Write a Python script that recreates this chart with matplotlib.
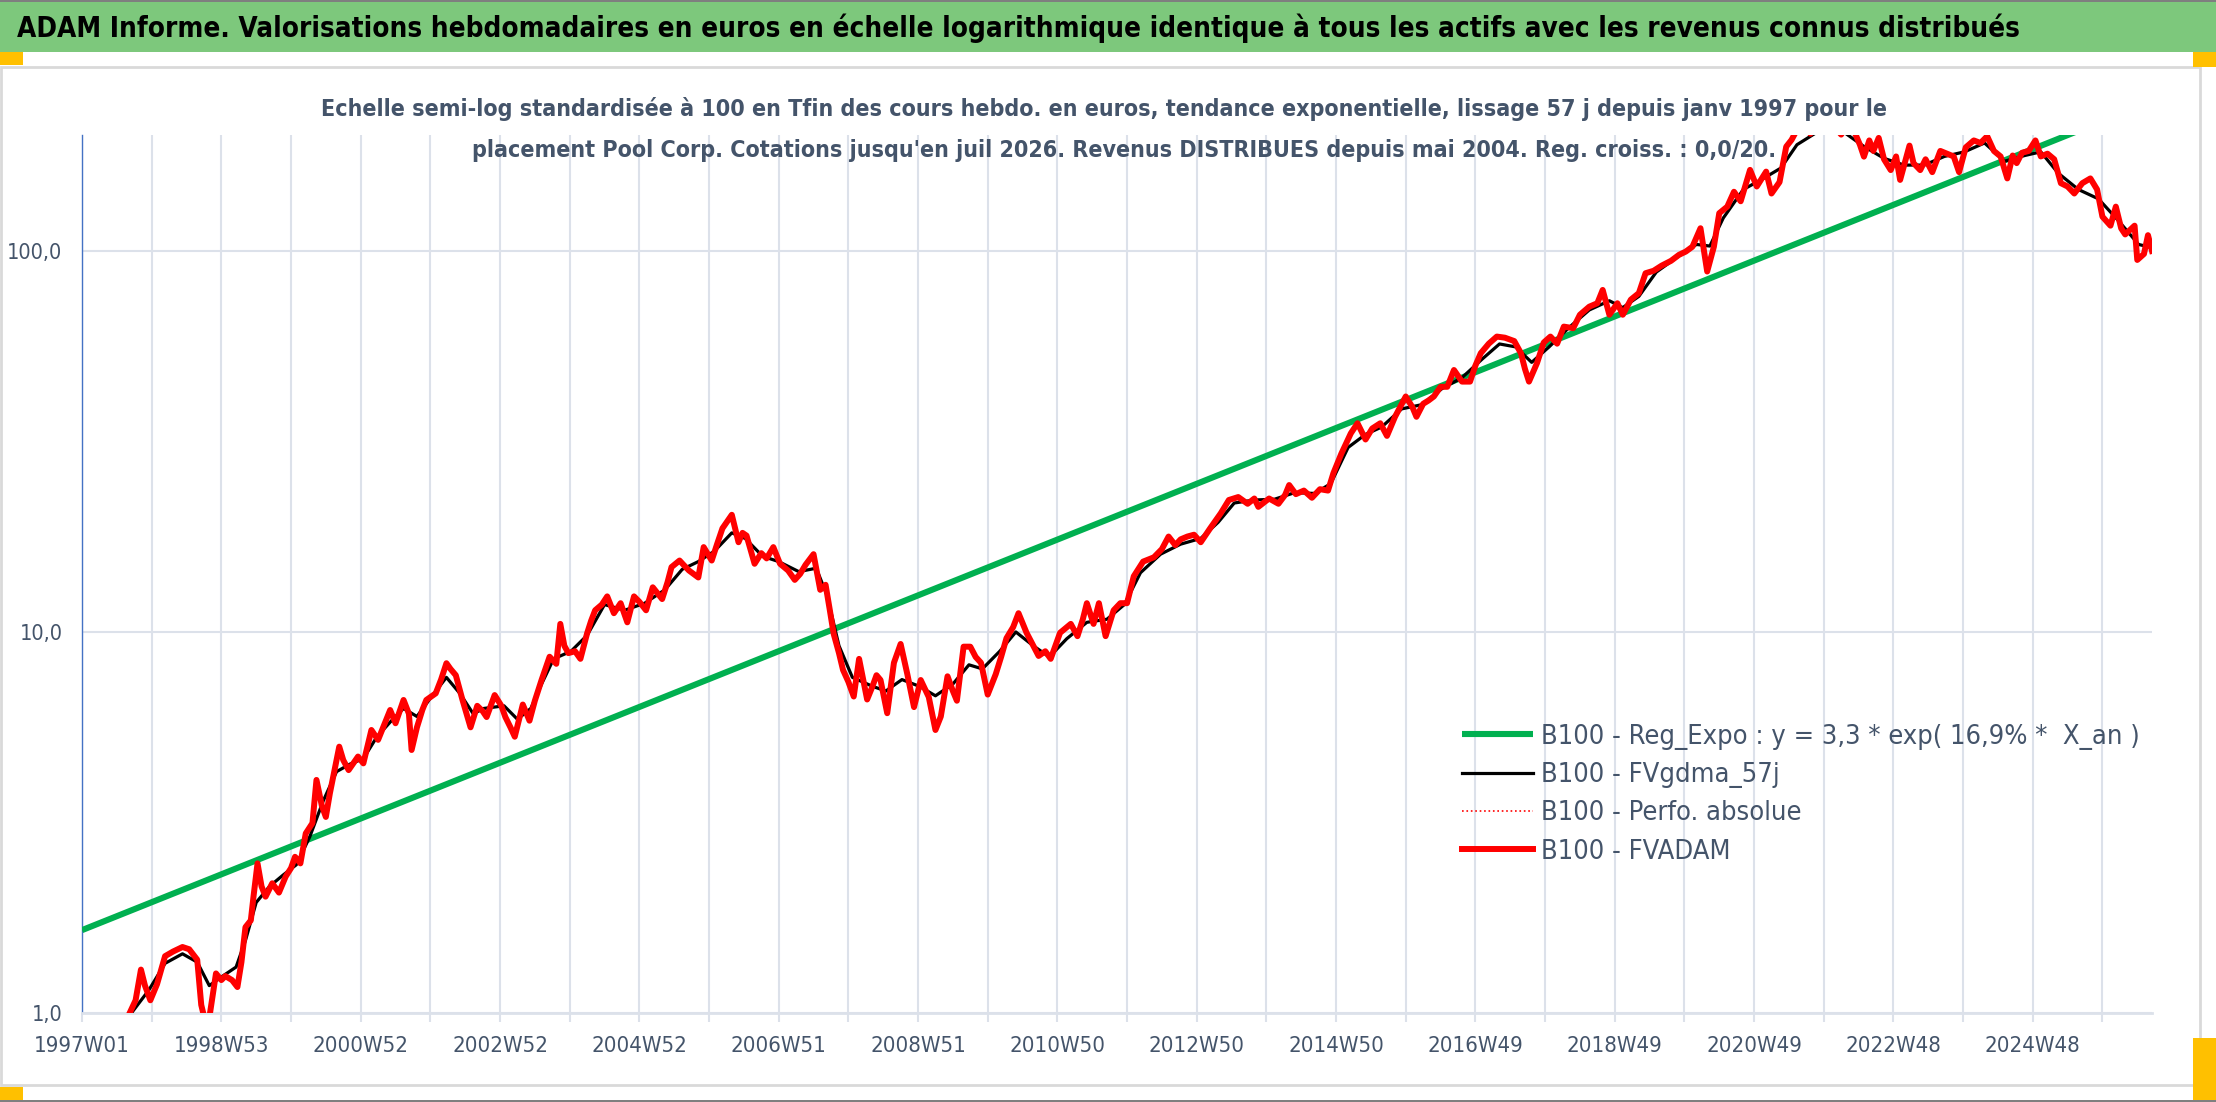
import matplotlib
matplotlib.use('Agg')
import matplotlib.pyplot as plt
from matplotlib import font_manager
from matplotlib.patches import Rectangle
from matplotlib.ticker import FixedLocator, NullLocator

# --- data (weekly index, 0 = 1997W01) ---
tick_labels = ["1997W01", "1998W53", "2000W52", "2002W52", "2004W52", "2006W51",
               "2008W51", "2010W50", "2012W50", "2014W50", "2016W49", "2018W49",
               "2020W49", "2022W48", "2024W48"]
n_weeks = 1545

fvadam_weeks = [0, 12, 24, 32, 35, 40, 44, 47, 51, 56, 62, 68, 75, 80, 86, 89, 92, 95,
                100, 104, 107, 112, 116, 119, 122, 126, 128, 131, 134, 137, 142, 147,
                152, 156, 159, 163, 167, 172, 175, 179, 182, 185, 192, 195, 199, 203,
                206, 210, 216, 221, 226, 230, 234, 240, 244, 246, 250, 254, 257, 264,
                268, 272, 275, 279, 284, 290, 295, 299, 302, 308, 313, 316, 320, 323,
                329, 334, 338, 343, 349, 354, 357, 360, 363, 368, 372, 377, 380, 383,
                388, 392, 397, 402, 407, 412, 416, 421, 426, 433, 437, 440, 446, 449,
                453, 460, 464, 470, 474, 478, 485, 490, 493, 496, 502, 507, 511, 516,
                521, 527, 532, 536, 540, 546, 551, 555, 558, 561, 565, 568, 572, 576,
                580, 586, 590, 593, 596, 601, 606, 611, 616, 621, 626, 632, 637, 641,
                646, 650, 653, 658, 663, 667, 671, 676, 682, 686, 690, 695, 699, 705,
                710, 714, 719, 723, 730, 738, 743, 747, 750, 755, 759, 764, 770, 775,
                780, 785, 792, 800, 806, 811, 816, 820, 825, 830, 835, 842, 850, 856,
                863, 870, 875, 878, 886, 893, 898, 901, 906, 912, 918, 924, 930, 934,
                940, 947, 952, 958, 963, 969, 974, 980, 984, 988, 993, 996, 1001, 1005,
                1009, 1014, 1019, 1024, 1030, 1036, 1040, 1044, 1050, 1056, 1062, 1069,
                1074, 1077, 1080, 1086, 1091, 1096, 1101, 1106, 1113, 1118, 1125, 1131,
                1135, 1140, 1146, 1150, 1156, 1162, 1167, 1173, 1179, 1186, 1192, 1197,
                1202, 1208, 1213, 1218, 1222, 1228, 1233, 1238, 1245, 1250, 1257, 1261,
                1267, 1272, 1276, 1280, 1285, 1290, 1295, 1302, 1308, 1313, 1318, 1323,
                1327, 1330, 1334, 1337, 1341, 1345, 1350, 1354, 1357, 1364, 1367, 1372,
                1376, 1381, 1387, 1392, 1397, 1401, 1406, 1412, 1417, 1422, 1427, 1432,
                1437, 1441, 1444, 1448, 1453, 1458, 1462, 1467, 1472, 1477, 1482, 1487,
                1493, 1499, 1504, 1508, 1514, 1518, 1522, 1525, 1532, 1534, 1539, 1542,
                1545]
fvadam_vals = [0.72, 0.78, 0.85, 0.93, 0.99, 1.08, 1.30, 1.18, 1.08, 1.19, 1.41, 1.45,
               1.49, 1.47, 1.38, 1.05, 0.95, 0.97, 1.27, 1.22, 1.25, 1.22, 1.17, 1.36,
               1.68, 1.75, 2.02, 2.47, 2.15, 2.02, 2.19, 2.07, 2.28, 2.40, 2.57, 2.47,
               2.96, 3.15, 4.09, 3.5, 3.27, 3.77, 5.0, 4.61, 4.34, 4.55, 4.71, 4.52,
               5.53, 5.21, 5.76, 6.24, 5.76, 6.63, 6.1, 4.90, 5.62, 6.24, 6.63, 6.9,
               7.5, 8.28, 8.0, 7.7, 6.63, 5.62, 6.4, 6.2, 5.98, 6.83, 6.4, 5.98, 5.6,
               5.31, 6.45, 5.85, 6.6, 7.48, 8.61, 8.25, 10.5, 9.2, 8.8, 8.9, 8.5, 9.92,
               10.7, 11.4, 11.8, 12.4, 11.2, 11.9, 10.6, 12.4, 12.0, 11.4, 13.1, 12.2,
               13.5, 14.8, 15.4, 15.0, 14.5, 13.9, 16.7, 15.4, 17.0, 18.7, 20.3, 17.2,
               18.2, 17.9, 15.1, 16.1, 15.6, 16.7, 15.1, 14.5, 13.7, 14.2, 15.0, 16.0,
               12.9, 13.3, 11.5, 9.9, 8.8, 7.95, 7.4, 6.77, 8.5, 6.65, 7.2, 7.7, 7.48,
               6.12, 8.3, 9.3, 7.75, 6.35, 7.48, 6.75, 5.53, 6.0, 7.65, 7.0, 6.6, 9.15,
               9.15, 8.6, 8.3, 6.85, 7.75, 8.6, 9.63, 10.3, 11.2, 9.95, 9.2, 8.65, 8.9,
               8.5, 9.95, 10.5, 9.75, 10.8, 11.9, 10.5, 11.9, 9.75, 11.4, 11.9, 11.9,
               14.0, 15.3, 15.7, 16.5, 17.8, 16.9, 17.5, 17.8, 18.0, 17.2, 18.7, 20.5,
               22.2, 22.6, 21.7, 22.4, 21.3, 22.4, 21.7, 22.9, 24.3, 23.0, 23.5, 22.5,
               23.7, 23.5, 26.1, 29.4, 33.2, 35.3, 32.0, 34.2, 35.3, 32.7, 36.7, 39.0,
               41.5, 38.9, 36.7, 39.7, 40.5, 41.5, 44.0, 44.0, 48.7, 45.4, 45.4, 50.0,
               53.9, 57.1, 59.6, 59.2, 58.0, 53.9, 49.0, 45.4, 50.8, 57.5, 59.6, 57.1,
               63.3, 62.7, 68.0, 71.4, 72.9, 79.0, 68.0, 72.9, 68.0, 74.5, 77.5, 87.4,
               88.7, 91.5, 94.2, 97.7, 99.6, 102.6, 114.7, 88.3, 102.6, 125.6, 130.7,
               143, 135, 163.2, 147.6, 161.5, 141.5, 151.6, 187.8, 195.7, 208, 215, 203,
               218, 225, 212, 202, 215, 205, 190, 176.8, 195, 183, 198, 174, 163, 177,
               153.6, 189, 170, 163, 174, 161, 183, 180, 177, 161, 187, 195, 192, 200,
               183, 177, 155, 178, 170, 181, 183, 195, 177, 180, 174, 150.6, 147.6,
               141.5, 150.6, 155, 145, 123, 116.5, 130.7, 114.6, 110.5, 116.5, 94.7,
               98.2, 110, 100]

gdma_weeks = [0, 20, 35, 50, 62, 75, 86, 95, 105, 115, 122, 130, 140, 150, 160, 170,
              180, 190, 200, 210, 220, 230, 240, 250, 260, 272, 282, 292, 300, 315,
              325, 335, 343, 352, 365, 377, 390, 405, 420, 435, 448, 460, 472, 485,
              495, 508, 520, 535, 548, 556, 565, 575, 590, 600, 612, 625, 637, 650,
              662, 672, 685, 697, 710, 722, 735, 750, 765, 778, 790, 805, 820, 835,
              848, 860, 875, 890, 905, 920, 932, 945, 958, 970, 985, 1000, 1015, 1030,
              1045, 1058, 1070, 1082, 1095, 1110, 1125, 1140, 1150, 1162, 1175, 1190,
              1205, 1215, 1225, 1240, 1255, 1268, 1280, 1295, 1315, 1330, 1345, 1360,
              1375, 1390, 1405, 1420, 1435, 1450, 1462, 1475, 1490, 1505, 1520, 1535,
              1545]
gdma_vals = [0.74, 0.82, 0.98, 1.15, 1.35, 1.43, 1.36, 1.18, 1.25, 1.32, 1.55, 1.95,
             2.15, 2.3, 2.45, 2.9, 3.6, 4.3, 4.5, 4.65, 5.3, 5.8, 6.3, 6.0, 6.7, 7.6,
             6.9, 6.1, 6.3, 6.4, 5.9, 6.3, 7.3, 8.5, 8.9, 9.8, 11.8, 11.4, 11.9, 12.9,
             14.6, 15.3, 16.3, 18.2, 17.6, 15.8, 15.3, 14.4, 14.7, 12.5, 9.2, 7.6, 7.2,
             7.0, 7.5, 7.2, 6.8, 7.3, 8.2, 8.0, 8.9, 10.0, 9.2, 8.6, 9.6, 10.6, 10.8,
             11.8, 14.3, 16.0, 17.0, 17.6, 19.4, 21.8, 22.2, 22.3, 23.2, 23.1, 24.5,
             30.5, 33.0, 34.5, 38.5, 39.5, 43.5, 46.5, 52, 57, 56, 51, 56, 63, 70, 74,
             71, 76, 88, 96, 104, 103, 122, 145, 155, 165, 190, 205, 205, 188, 175,
             168, 168, 177, 182, 192, 172, 178, 182, 160, 145, 137, 120, 104, 102]

# exponential regression, straight on the log scale: start and end values
reg_weeks = [0, 1545]
reg_vals = [1.65, 247]

# --- fonts: a narrow face if one is installed ---
ttf = font_manager.fontManager.ttflist
narrow = [f for f in ttf if 'narrow' in f.fname.lower() or 'condensed' in f.fname.lower()]
if narrow:
    FONT, STRETCH = narrow[0].name, 'condensed'
else:
    FONT, STRETCH = 'Liberation Sans', 'normal'
plt.rcParams['font.family'] = [FONT, 'DejaVu Sans']
plt.rcParams['font.stretch'] = STRETCH

TXT = '#44546A'
W, H = 2216, 1102
fig = plt.figure(figsize=(W / 100, H / 100), dpi=100)
fig.patch.set_facecolor('white')
renderer = fig.canvas.get_renderer()


def fit(t, target):
    w = t.get_window_extent(renderer).width
    t.set_fontsize(t.get_fontsize() * target / w)
    return t.get_fontsize()


# frame decorations (green banner, chart border, selection handles)
fig.add_artist(Rectangle((0, 1 - 52 / H), 1, 50 / H, transform=fig.transFigure,
                         facecolor='#7DC87C', edgecolor='none'))
fig.add_artist(Rectangle((0, 1 - 2 / H), 1, 2 / H, transform=fig.transFigure,
                         facecolor='#7F7F7F', edgecolor='none'))
fig.add_artist(Rectangle((0, 0), 1, 2 / H, transform=fig.transFigure,
                         facecolor='#7F7F7F', edgecolor='none'))
fig.add_artist(Rectangle((1 / W, 1 - 1085 / H), 2199 / W, 1018 / H, transform=fig.transFigure,
                         facecolor='none', edgecolor='#D9D9D9', linewidth=2))
for x0, y0, w, h in [(0, 52, 23, 13), (0, 1087, 23, 13), (2193, 52, 23, 15), (2193, 1038, 23, 62)]:
    fig.add_artist(Rectangle((x0 / W, 1 - (y0 + h) / H), w / W, h / H, transform=fig.transFigure,
                             facecolor='#FFC000', edgecolor='none'))

title = fig.text(17 / W, 1 - 28 / H,
                 "ADAM Informe. Valorisations hebdomadaires en euros en échelle logarithmique "
                 "identique à tous les actifs avec les revenus connus distribués",
                 ha='left', va='center', weight='bold', color='black', fontsize=24)
sub1 = fig.text(1104 / W, 1 - 109 / H,
                "Echelle semi-log standardisée à 100 en Tfin des cours hebdo. en euros, tendance "
                "exponentielle, lissage 57 j depuis janv 1997 pour le",
                ha='center', va='center', weight='bold', color=TXT, fontsize=18)
sub2 = fig.text(1124 / W, 1 - 151 / H,
                "placement Pool Corp. Cotations jusqu'en juil 2026. Revenus DISTRIBUES depuis "
                "mai 2004. Reg. croiss. : 0,0/20.",
                ha='center', va='center', weight='bold', color=TXT, fontsize=18)
fit(title, 2001)
sub2.set_fontsize(fit(sub1, 1564))

# sizes of tick and legend texts measured against the reference
probe = fig.text(0, 0, "1997W01", fontsize=16)
xtick_fs = fit(probe, 96)
probe.set_text("1,0")
ytick_fs = fit(probe, 31)
probe.set_text("B100 - FVADAM")
probe.set_fontsize(20)
leg_fs = fit(probe, 190)
probe.remove()

ax = fig.add_axes([82 / W, 1 - 1013 / H, 2070 / W, 878 / H])
ax.set_yscale('log')
ax.set_xlim(0, n_weeks)
ax.set_ylim(1, 201.5)

GRID = '#DCE1EA'
ax.plot(reg_weeks, reg_vals, color='#00B050', lw=4.4, solid_capstyle='butt', zorder=3,
        label='B100 - Reg_Expo : y = 3,3 * exp( 16,9% *  X_an )')
ax.plot(gdma_weeks, gdma_vals, color='black', lw=2.3, zorder=4, label='B100 - FVgdma_57j')
ax.plot(fvadam_weeks, fvadam_vals, color='#FF0000', lw=1.2, ls=':', zorder=4,
        label='B100 - Perfo. absolue')
ax.plot(fvadam_weeks, fvadam_vals, color='#FF0000', lw=4.3, zorder=5, label='B100 - FVADAM')

grid_pos = list(range(0, n_weeks, 52))
ax.xaxis.set_major_locator(FixedLocator(grid_pos))
ax.set_xticklabels([tick_labels[i // 2] if i % 2 == 0 else '' for i in range(len(grid_pos))])
ax.yaxis.set_major_locator(FixedLocator([1, 10, 100]))
ax.yaxis.set_minor_locator(NullLocator())
ax.set_yticklabels(['1,0', '10,0', '100,0'])
ax.grid(True, axis='both', which='major', color=GRID, lw=1.5, zorder=0)
ax.tick_params(axis='x', length=6.5, width=1.5, color=GRID, pad=10, labelsize=xtick_fs,
               labelcolor=TXT)
ax.tick_params(axis='y', length=0, pad=14, labelsize=ytick_fs, labelcolor=TXT)
for s in ['top', 'right']:
    ax.spines[s].set_visible(False)
ax.spines['left'].set_color('#4472C4')
ax.spines['left'].set_linewidth(1.0)
ax.spines['bottom'].set_color(GRID)
ax.spines['bottom'].set_linewidth(2)
ax.set_axisbelow(True)

leg = ax.legend(loc='upper left', bbox_to_anchor=(1462 / W, 1 - 724 / H),
                bbox_transform=fig.transFigure, frameon=False, fontsize=leg_fs,
                handlelength=71 / (leg_fs * 100 / 72), handletextpad=0.3,
                labelspacing=0.45, borderpad=0, borderaxespad=0)
for txt in leg.get_texts():
    txt.set_color(TXT)

fig.savefig('out.png', dpi=100, facecolor='white')
